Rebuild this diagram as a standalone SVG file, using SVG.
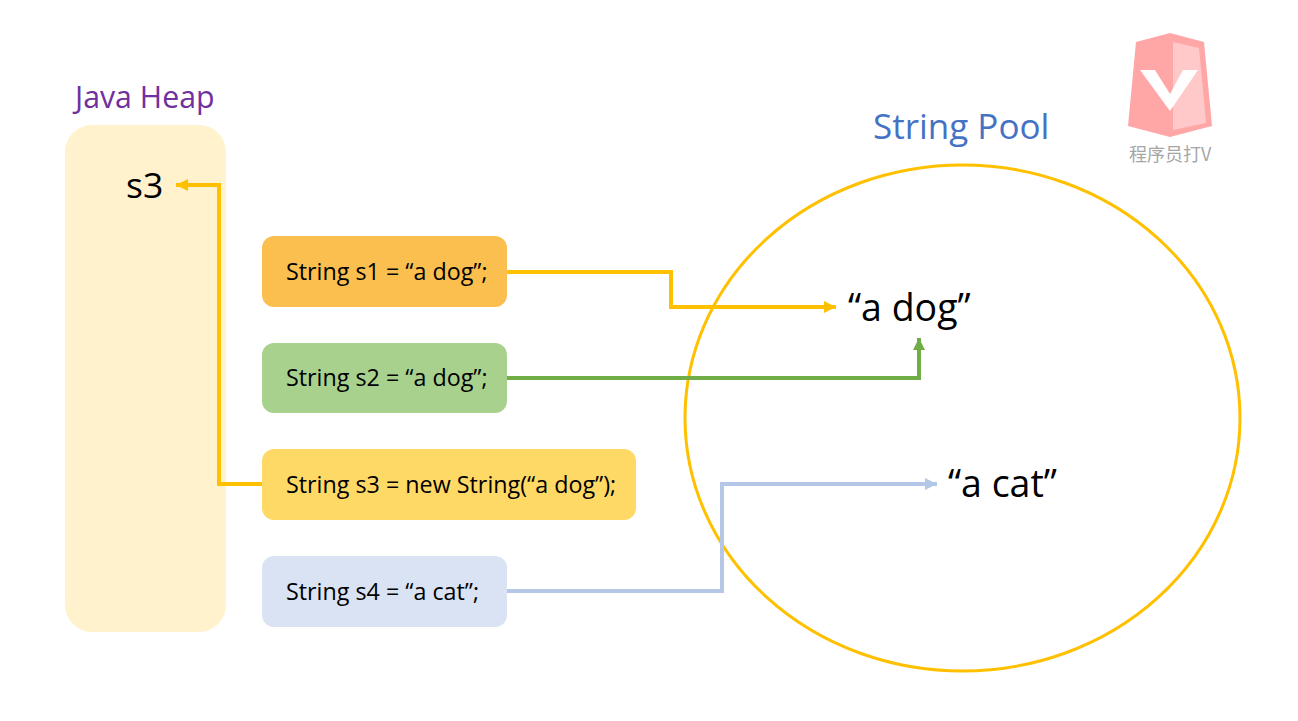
<svg xmlns="http://www.w3.org/2000/svg" width="1298" height="721" viewBox="0 0 1298 721">
<style>
text{font-family:"Open Sans","Noto Sans","Noto Sans CJK SC",sans-serif}
.code{font-size:23.300px;fill:#000}
.big{font-size:37.500px;fill:#000}
.conn{fill:none;stroke-width:4}
</style>
<defs>
<marker id="aY" markerUnits="userSpaceOnUse" markerWidth="14" markerHeight="14" refX="12" refY="6" orient="auto"><path d="M0 0L12 6L0 12Z" fill="#ffc000"/></marker>
<marker id="aG" markerUnits="userSpaceOnUse" markerWidth="14" markerHeight="14" refX="12" refY="6" orient="auto"><path d="M0 0L12 6L0 12Z" fill="#70ad47"/></marker>
<marker id="aB" markerUnits="userSpaceOnUse" markerWidth="14" markerHeight="14" refX="12" refY="6" orient="auto"><path d="M0 0L12 6L0 12Z" fill="#b4c7e7"/></marker>
</defs>
<rect width="1298" height="721" fill="#fff"/>
<g id="java-heap">
<rect x="65" y="125" width="161" height="507" rx="27" fill="#fff2cc"/>
<text x="75" y="108" fill="#7030a0" style="font-size:30.300px">Java Heap</text>
<text class="big" x="126" y="198" style="font-size:35.500px">s3</text>
</g>
<g id="string-pool">
<ellipse cx="962.500" cy="418" rx="277.500" ry="253" fill="none" stroke="#ffc000" stroke-width="3"/>
<text x="873" y="139" fill="#4472c4" style="font-size:35px">String Pool</text>
</g>
<g id="lit-dog"><text class="big" x="848" y="321">“a dog”</text></g>
<g id="lit-cat"><text class="big" x="948" y="497">“a cat”</text></g>
<g id="s1"><rect x="262" y="236" width="245" height="71" rx="12" fill="#fbbf4f"/><text class="code" x="286" y="280">String s1 = “a dog”;</text></g>
<g id="s2"><rect x="262" y="343" width="245" height="70" rx="12" fill="#a9d18e"/><text class="code" x="286" y="386">String s2 = “a dog”;</text></g>
<g id="s3"><rect x="262" y="449" width="374" height="71" rx="12" fill="#ffd966"/><text class="code" x="286" y="493">String s3 = new String(“a dog”);</text></g>
<g id="s4"><rect x="262" y="556" width="245" height="71" rx="12" fill="#dae3f3"/><text class="code" x="286" y="600">String s4 = “a cat”;</text></g>
<g id="connectors">
<path class="conn" stroke="#ffc000" d="M507 272H671V307H836" marker-end="url(#aY)"/>
<path class="conn" stroke="#70ad47" d="M507 378H919V338" marker-end="url(#aG)"/>
<path class="conn" stroke="#ffc000" d="M262 484H219V185H176" marker-end="url(#aY)"/>
<path class="conn" stroke="#b4c7e7" d="M507 591H722V484H937" marker-end="url(#aB)"/>
</g>
<g id="logo">
<path d="M1128 126L1136 42L1170 33L1204 42L1212 126L1170 137Z" fill="#ffa6a6"/>
<path d="M1173 42L1199 48L1206 123L1173 130Z" fill="#ffc9c9"/>
<path d="M1140 70H1155L1170 94L1183 70H1198L1170 111Z" fill="#fff"/>
<text x="1129" y="161" fill="#a6a6a6" style="font-size:18px;font-family:'Noto Sans CJK SC','Noto Sans',sans-serif">程序员打V</text>
</g>
</svg>
